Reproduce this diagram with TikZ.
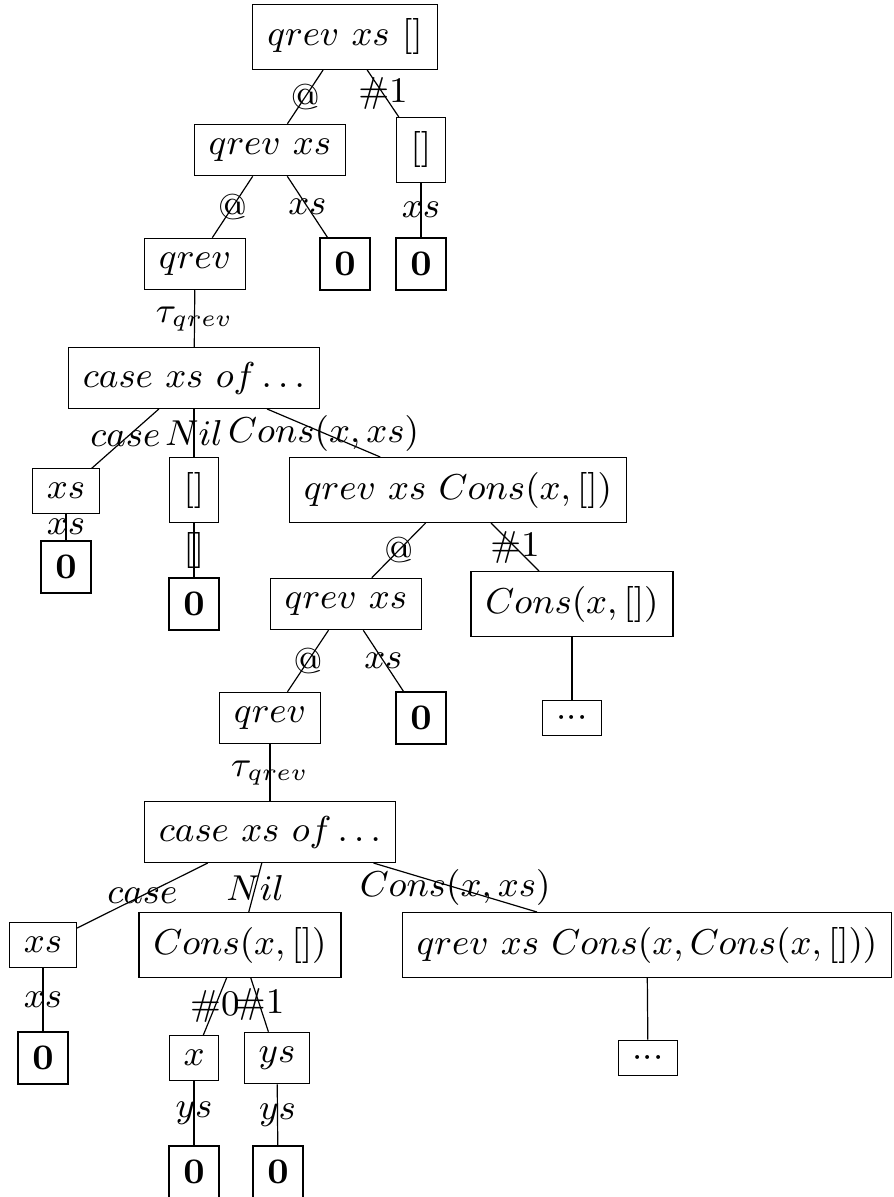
\documentclass[tikz,border=0pt]{standalone}
\begin{document}
\begin{tikzpicture}[x=0.25pt,y=-0.25pt,line width=0.3pt,font=\fontsize{9}{11}\selectfont,
term/.style={draw,inner sep=3.6pt},
dotsbox/.style={term,inner ysep=2.4pt}]
\useasboundingbox(0,0)rectangle(893,1197);
\newcommand{\Zero}{$\mathbf{0}$}
\newcommand{\More}{${\cdot}{\cdot}{\cdot}$}
\node[term](top)at(345,37){$qrev\ xs\ []$};
\node[term](qxsA)at(270,150){$qrev\ xs$};
\node[term](nilA)at(421,150){$[]$};
\node[term](qrevA)at(195,264){$qrev$};
\node[term](zA)at(345,264){\Zero};
\node[term](zB)at(421,264){\Zero};
\node[term](caseA)at(194,378){$case\ xs\ of\ldots$};
\node[term](xsA)at(66,491){$xs$};
\node[term](nilB)at(194,490){$[]$};
\node[term](qxcA)at(458,490){$qrev\ xs\ Cons(x,[])$};
\node[term](zC)at(66,567){\Zero};
\node[term](zD)at(194,604){\Zero};
\node[term](qxsB)at(346,604){$qrev\ xs$};
\node[term](consA)at(572,604){$Cons(x,[])$};
\node[term](qrevB)at(270,718){$qrev$};
\node[term](zE)at(421,718){\Zero};
\node[dotsbox](dotsA)at(572,718){\More};
\node[term](caseB)at(270,832){$case\ xs\ of\ldots$};
\node[term](xsB)at(43,945){$xs$};
\node[term](consB)at(240,945){$Cons(x,[])$};
\node[term](qxcB)at(647,945){$qrev\ xs\ Cons(x,Cons(x,[]))$};
\node[term](zF)at(43,1058){\Zero};
\node[term](xA)at(194,1058){$x$};
\node[term](ysA)at(277,1058){$ys$};
\node[dotsbox](dotsB)at(648,1058){\More};
\node[term](zG)at(194,1172){\Zero};
\node[term](zH)at(278,1172){\Zero};
\draw(top)--node{$@$}(qxsA);
\draw(top)--node{$\#1$}(nilA);
\draw(qxsA)--node{$@$}(qrevA);
\draw(qxsA)--node{$xs$}(zA);
\draw(nilA)--node{$xs$}(zB);
\draw(qrevA)--node{$\tau_{qrev}$}(caseA);
\draw(caseA)--node{$case$}(xsA);
\draw(caseA)--node{$Nil$}(nilB);
\draw(caseA)--node{$Cons(x,xs)$}(qxcA);
\draw(xsA)--node{$xs$}(zC);
\draw(nilB)--node{$[]$}(zD);
\draw(qxcA)--node{$@$}(qxsB);
\draw(qxcA)--node{$\#1$}(consA);
\draw(qxsB)--node{$@$}(qrevB);
\draw(qxsB)--node{$xs$}(zE);
\draw(consA)--(dotsA);
\draw(qrevB)--node{$\tau_{qrev}$}(caseB);
\draw(caseB)--node{$case$}(xsB);
\draw(caseB)--node{$Nil$}(consB);
\draw(caseB)--node{$Cons(x,xs)$}(qxcB);
\draw(xsB)--node{$xs$}(zF);
\draw(consB)--node{$\#0$}(xA);
\draw(consB)--node{$\#1$}(ysA);
\draw(qxcB)--(dotsB);
\draw(xA)--node{$ys$}(zG);
\draw(ysA)--node{$ys$}(zH);
\end{tikzpicture}
\end{document}
